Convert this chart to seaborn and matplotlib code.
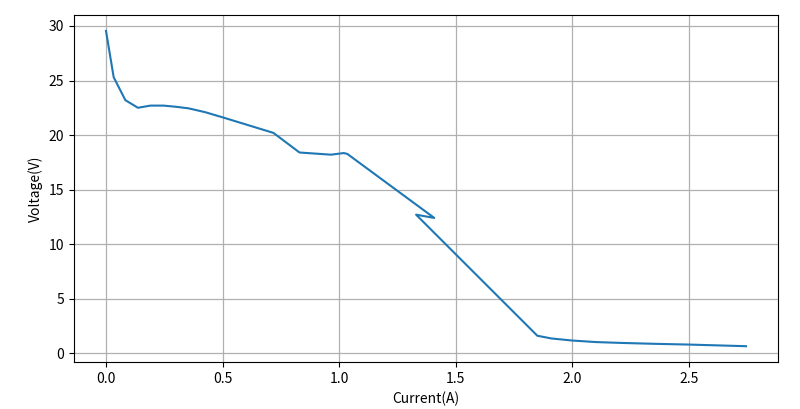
import numpy as np
import pandas as pd
import matplotlib
matplotlib.use('Agg')
import matplotlib.pyplot as plt
import seaborn as sns

# I-V sweep (order matters, curve doubles back)
current = [0.0, 0.033, 0.083, 0.137, 0.19, 0.247, 0.297, 0.354, 0.425, 0.504,
           0.718, 0.83, 0.965, 1.02, 1.035, 1.408, 1.33, 1.85, 1.91, 2.0,
           2.1, 2.21, 2.35, 2.5, 2.745]
voltage = [29.55, 25.3, 23.2, 22.5, 22.7, 22.7, 22.6, 22.45, 22.1, 21.6,
           20.2, 18.4, 18.2, 18.35, 18.27, 12.4, 12.7, 1.6, 1.35, 1.16,
           1.02, 0.94, 0.86, 0.79, 0.64]

df = pd.DataFrame({'Current(A)': current, 'Voltage(V)': voltage})

plt.rcParams['font.family'] = ['Noto Sans CJK SC', 'DejaVu Sans']
plt.rcParams['axes.unicode_minus'] = False

fig, ax = plt.subplots(figsize=(8, 4.09), dpi=100)
sns.lineplot(data=df, x='Current(A)', y='Voltage(V)', sort=False, estimator=None,
             color='#1f77b4', lw=1.5, ax=ax)
ax.grid(True, color='#b0b0b0', lw=0.9)
ax.set_xlabel('Current(A)', fontsize=10)
ax.set_ylabel('Voltage(V)', fontsize=10)
ax.tick_params(labelsize=10)
plt.subplots_adjust(left=0.0925, right=0.9725, top=0.963, bottom=0.115)
plt.savefig('out.png')
plt.close()
